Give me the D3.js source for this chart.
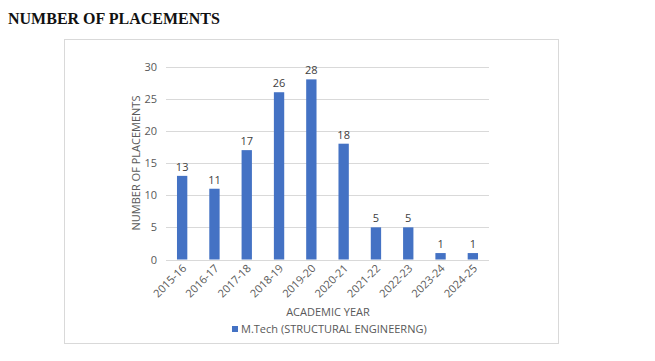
<!DOCTYPE html>
<html><head><meta charset="utf-8">
<script src="https://cdn.jsdelivr.net/npm/d3@7"></script>
<style>body{margin:0;background:#fff}</style>
</head><body>
<svg id="c" width="655" height="361"></svg>
<script>
const categories = ["2015-16","2016-17","2017-18","2018-19","2019-20","2020-21","2021-22","2022-23","2023-24","2024-25"];
const values = [13,11,17,26,28,18,5,5,1,1];
const yTicks = [0,5,10,15,20,25,30];
const seriesName = "M.Tech (STRUCTURAL ENGINEERNG)";
const title = "NUMBER OF PLACEMENTS";
const yTitle = "NUMBER OF PLACEMENTS";
const xTitle = "ACADEMIC YEAR";

const svg = d3.select("#c");
const font = "'Open Sans', 'Noto Sans', sans-serif";
const barColor = "#4472C4";
const fs = 11;

svg.append("text").attr("x", 8).attr("y", 24)
  .attr("font-family", "'Liberation Serif', 'Times New Roman', serif")
  .attr("font-weight", "bold").attr("font-size", 16).attr("fill", "#111")
  .text(title);

svg.append("rect").attr("x", 64.5).attr("y", 39.5).attr("width", 494).attr("height", 304)
  .attr("fill", "#fff").attr("stroke", "#d9d9d9").attr("stroke-width", 1);

const x = d3.scaleBand().domain(categories).range([166, 489]).paddingInner(0.68).paddingOuter(0.34);
const y = d3.scaleLinear().domain([0, 30]).range([259.5, 66.5]);

const g = svg.append("g");
g.selectAll("line.grid").data(yTicks).join("line")
  .attr("x1", 166).attr("x2", 489)
  .attr("y1", d => Math.round(y(d)) + 0.5).attr("y2", d => Math.round(y(d)) + 0.5)
  .attr("stroke", "#d9d9d9").attr("stroke-width", 1);

const yAxis = d3.axisLeft(y).tickValues(yTicks).tickSize(0).tickPadding(0);
const ya = svg.append("g").attr("transform", "translate(157,0)").call(yAxis);
ya.select(".domain").remove();
ya.selectAll("text").attr("font-family", font).attr("font-size", fs).attr("fill", "#595959");

g.selectAll("rect.bar").data(values).join("rect")
  .attr("x", (d, i) => x(categories[i])).attr("width", x.bandwidth())
  .attr("y", d => y(d)).attr("height", d => y(0) - y(d))
  .attr("fill", barColor);

g.selectAll("text.lbl").data(values).join("text")
  .attr("x", (d, i) => x(categories[i]) + x.bandwidth() / 2)
  .attr("y", d => y(d) - 5)
  .attr("text-anchor", "middle").attr("font-family", font).attr("font-size", fs).attr("fill", "#404040")
  .text(d => d);

const xAxis = d3.axisBottom(x).tickSize(0).tickPadding(0);
const xa = svg.append("g").attr("transform", "translate(0,260)").call(xAxis);
xa.select(".domain").remove();
xa.selectAll("text")
  .attr("font-family", font).attr("font-size", fs).attr("fill", "#595959")
  .attr("text-anchor", "end").attr("dy", null).attr("y", 0)
  .attr("transform", "translate(5,9) rotate(-45)");

svg.append("text").attr("transform", "translate(140,163) rotate(-90)")
  .attr("text-anchor", "middle").attr("font-family", font).attr("font-size", fs).attr("fill", "#595959")
  .text(yTitle);
svg.append("text").attr("x", 328).attr("y", 316)
  .attr("text-anchor", "middle").attr("font-family", font).attr("font-size", fs).attr("fill", "#595959")
  .text(xTitle);

svg.append("rect").attr("x", 232).attr("y", 326).attr("width", 6).attr("height", 6).attr("fill", barColor);
svg.append("text").attr("x", 241).attr("y", 333)
  .attr("font-family", font).attr("font-size", fs).attr("fill", "#595959")
  .text(seriesName);
</script>
</body></html>
